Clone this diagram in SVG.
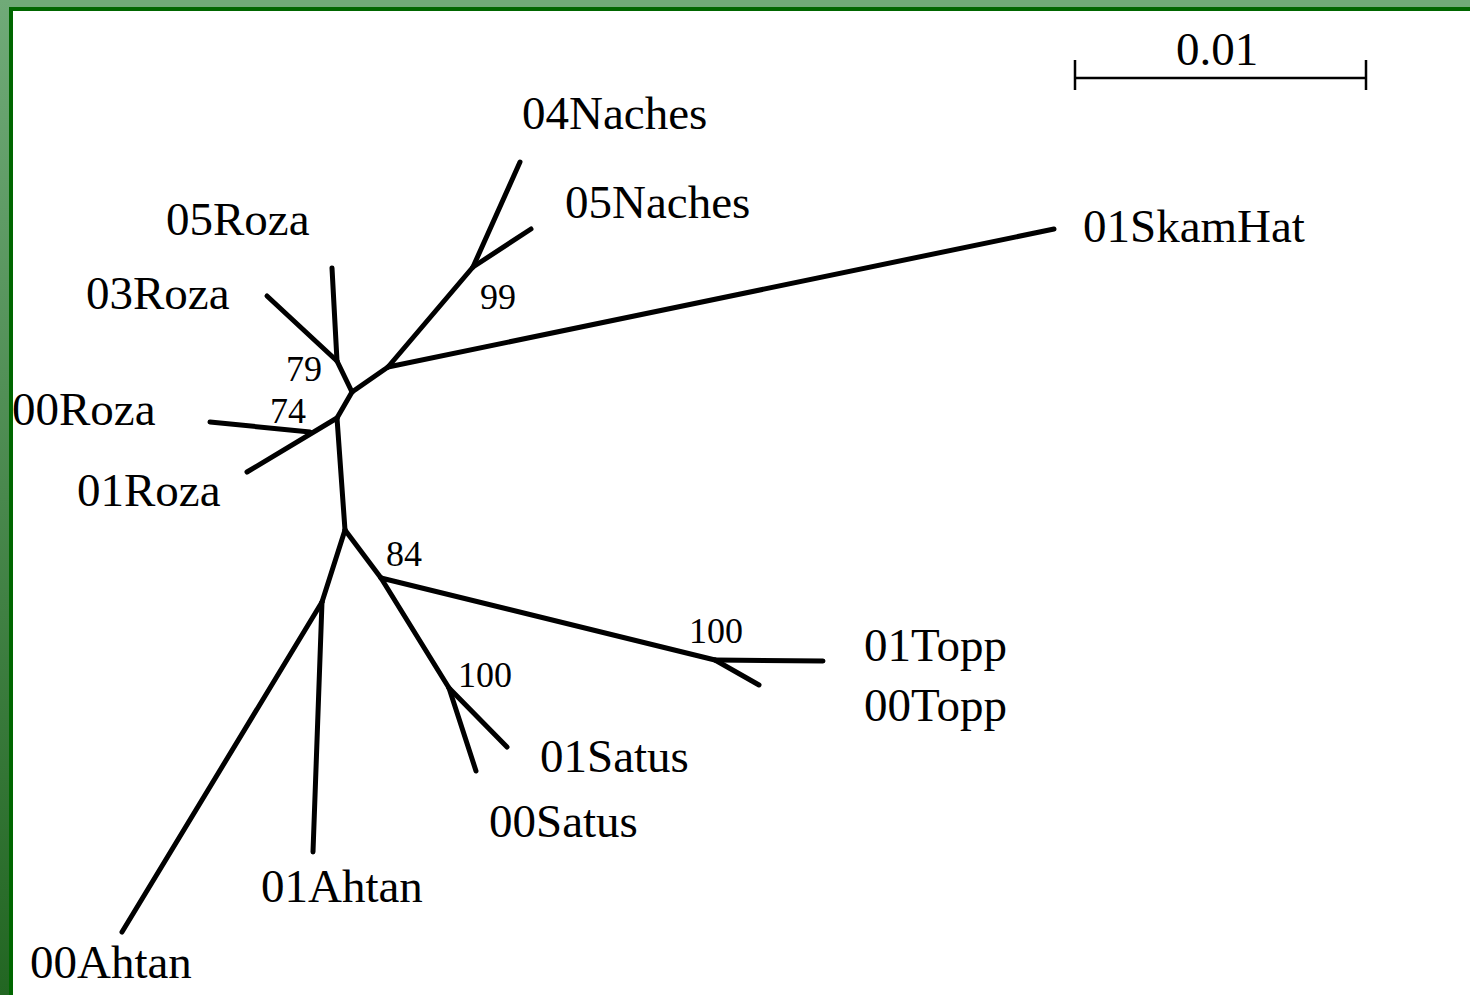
<svg xmlns="http://www.w3.org/2000/svg" width="1470" height="995" viewBox="0 0 1470 995">
  <defs>
    <linearGradient id="edgeFade" x1="0" y1="0" x2="0" y2="1">
      <stop offset="0" stop-color="#70aa78"/>
      <stop offset="1" stop-color="#226622"/>
    </linearGradient>
  </defs>
  <style>
    .branch { stroke: #000; stroke-width: 5; stroke-linecap: round; stroke-linejoin: round; fill: none; }
    .scale { stroke: #000; stroke-width: 2.5; fill: none; }
    .taxon { font-family: "Liberation Serif", "Times New Roman", serif; font-size: 47px; fill: #000; }
    .boot { font-family: "Liberation Serif", "Times New Roman", serif; font-size: 36px; fill: #000; }
  </style>

  <!-- page frame -->
  <rect x="0" y="0" width="1470" height="995" fill="#ffffff"/>
  <rect x="0" y="0" width="1470" height="8" fill="#70aa78"/>
  <rect x="0" y="0" width="9" height="995" fill="url(#edgeFade)"/>
  <rect x="9" y="7" width="1461" height="4" fill="#006600"/>
  <rect x="9" y="7" width="4" height="988" fill="#006600"/>

  <!-- scale bar -->
  <g id="scale-bar">
    <path class="scale" d="M1075 78 H1366 M1075 60 V90 M1366 60 V90"/>
    <text class="taxon" x="1176" y="65" font-size="44">0.01</text>
  </g>

  <!-- tree branches -->
  <g id="connectors">
    <path class="branch" d="M352 392 L337 361"/>
    <path class="branch" d="M337 361 L332 268"/>
    <path class="branch" d="M337 361 L267 296"/>
    <path class="branch" d="M352 392 L388 367"/>
    <path class="branch" d="M388 367 L473 267"/>
    <path class="branch" d="M473 267 L520 162"/>
    <path class="branch" d="M473 267 L531 229"/>
    <path class="branch" d="M388 367 L1054 229"/>
    <path class="branch" d="M352 392 L337 418"/>
    <path class="branch" d="M337 418 L247 472"/>
    <path class="branch" d="M310 432 L210 422"/>
    <path class="branch" d="M337 418 L345 530"/>
    <path class="branch" d="M345 530 L322 602"/>
    <path class="branch" d="M322 602 L122 932"/>
    <path class="branch" d="M322 602 L313 852"/>
    <path class="branch" d="M345 530 L381 578"/>
    <path class="branch" d="M381 578 L715 660"/>
    <path class="branch" d="M715 660 L823 661"/>
    <path class="branch" d="M715 660 L759 685"/>
    <path class="branch" d="M381 578 L449 688"/>
    <path class="branch" d="M449 688 L507 747"/>
    <path class="branch" d="M449 688 L476 771"/>
  </g>

  <!-- support values -->
  <g id="support">
    <text class="boot" x="480" y="309">99</text>
    <text class="boot" x="286" y="381">79</text>
    <text class="boot" x="270" y="423">74</text>
    <text class="boot" x="386" y="566">84</text>
    <text class="boot" x="689" y="643">100</text>
    <text class="boot" x="458" y="687">100</text>
  </g>

  <!-- leaves -->
  <g id="leaf-04Naches"><text class="taxon" x="522" y="129">04Naches</text></g>
  <g id="leaf-05Naches"><text class="taxon" x="565" y="218">05Naches</text></g>
  <g id="leaf-01SkamHat"><text class="taxon" x="1083" y="242">01SkamHat</text></g>
  <g id="leaf-05Roza"><text class="taxon" x="166" y="235">05Roza</text></g>
  <g id="leaf-03Roza"><text class="taxon" x="86" y="309">03Roza</text></g>
  <g id="leaf-00Roza"><text class="taxon" x="12" y="425">00Roza</text></g>
  <g id="leaf-01Roza"><text class="taxon" x="77" y="506">01Roza</text></g>
  <g id="leaf-01Topp"><text class="taxon" x="864" y="661">01Topp</text></g>
  <g id="leaf-00Topp"><text class="taxon" x="864" y="721">00Topp</text></g>
  <g id="leaf-01Satus"><text class="taxon" x="540" y="772">01Satus</text></g>
  <g id="leaf-00Satus"><text class="taxon" x="489" y="837">00Satus</text></g>
  <g id="leaf-01Ahtan"><text class="taxon" x="261" y="902">01Ahtan</text></g>
  <g id="leaf-00Ahtan"><text class="taxon" x="30" y="978">00Ahtan</text></g>
</svg>
